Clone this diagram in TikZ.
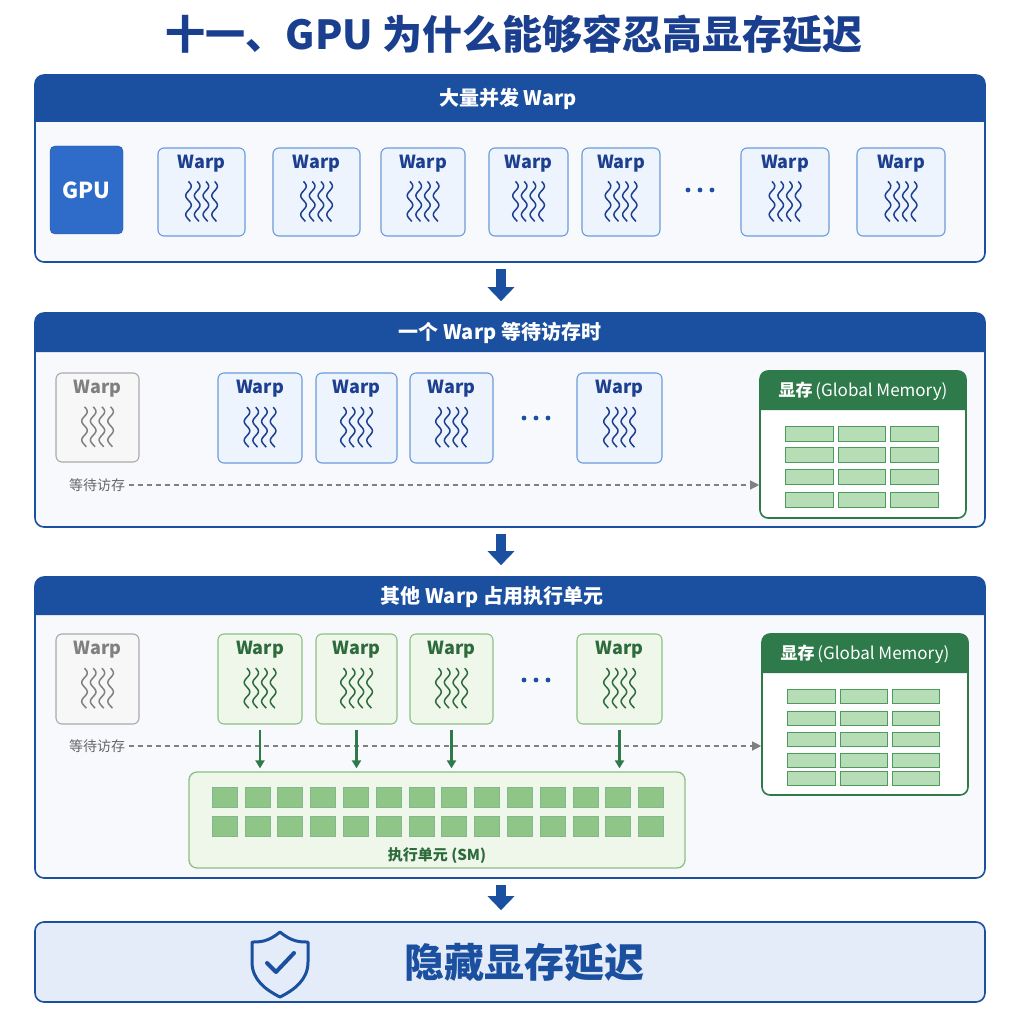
\documentclass[tikz,border=0pt]{standalone}
\usepackage{fontspec}
\setmainfont{Noto Sans CJK SC}
\usetikzlibrary{arrows.meta,positioning}
\definecolor{dblue}{HTML}{1A3F8F}
\definecolor{hblue}{HTML}{1B4FA0}
\definecolor{gpub}{HTML}{2F6BC8}
\definecolor{wblue}{HTML}{6B9BDB}
\definecolor{wfill}{HTML}{EEF4FD}
\definecolor{wtext}{HTML}{1D3F8F}
\definecolor{gtext}{HTML}{2E6B3C}
\definecolor{gborder}{HTML}{8CC084}
\definecolor{gfill}{HTML}{EEF7EA}
\definecolor{mgreen}{HTML}{2F7A4A}
\definecolor{cellg}{HTML}{B6DDB6}
\definecolor{cellb}{HTML}{4E9A5E}
\definecolor{smcell}{HTML}{8FC587}
\definecolor{grayb}{HTML}{AAAAAA}
\definecolor{panelf}{HTML}{F7F9FD}
\definecolor{bottomf}{HTML}{E3ECF8}
\tikzset{
  x=1pt,y=-1pt,
  panel/.style={draw=hblue,line width=1.6pt,rounded corners=9pt,fill=panelf},
  htext/.style={text=white,font=\bfseries\fontsize{20}{20}\selectfont},
  bigarrow/.style={draw=hblue,line width=10pt,-{Triangle[length=14pt,width=26pt]},shorten <=6pt,shorten >=11pt},
  wbox/.style={draw=wblue,fill=wfill,line width=1.1pt,rounded corners=6pt},
  gbox/.style={draw=gborder,fill=gfill,line width=1.1pt,rounded corners=6pt},
  graybox/.style={draw=grayb,fill=white!94!gray,line width=1.1pt,rounded corners=6pt},
  wlabel/.style={font=\bfseries\fontsize{18}{18}\selectfont},
  dashar/.style={draw=gray,line width=1.2pt,dash pattern=on 5pt off 4pt,-{Triangle[length=9pt,width=9pt]}},
  mcell/.style={draw=cellb,fill=cellg,line width=1pt},
  smc/.style={draw=cellb!70,fill=smcell,line width=0.6pt},
  garrow/.style={draw=mgreen,line width=2.2pt,-{Triangle[length=8pt,width=9pt]}},
}
\newcommand\dotsat[2]{\foreach \q in {-12,0,12}{\fill[hblue] (#1+\q,#2) circle (2.4);}}
% \warpbox{name}{x1}{y1}{x2}{y2}{style}{color}
\newcommand\warpbox[7]{%
  \node[#6,minimum width={#4-#2},minimum height={#5-#3},inner sep=0pt] (#1) at ({(#2+#4)/2},{(#3+#5)/2}) {};
  \node[wlabel,text=#7,below=4pt of #1.north] {Warp};
  \foreach \k in {0,1,2,3}{
    \draw[#7,line width=1.5pt,smooth,samples=30,variable=\t,domain=0:40]
      plot ({(#2+#4)/2-13+\k*8.7+2.8*sin(\t*19)},{#3+(#5-#3)*0.38+\t});
  }%
}
\begin{document}
\begin{tikzpicture}
\useasboundingbox[fill=white] (0,0) rectangle (1024,1024);
\node[text=dblue,font=\bfseries\fontsize{40}{40}\selectfont] (title) at (514,34) {十一、GPU 为什么能够容忍高显存延迟};

% panels
\node[panel,minimum width=950,minimum height=187,inner sep=0pt] (p1) at (510,168.5) {};
\fill[hblue] (35,122) [rounded corners=9pt] -- (35,75) -- (985,75) [sharp corners] -- (985,122) -- cycle;
\node[htext] at (508,99) {大量并发 Warp};

\node[panel,minimum width=950,minimum height=214,inner sep=0pt] (p2) at (510,420) {};
\fill[hblue] (35,352) [rounded corners=9pt] -- (35,313) -- (985,313) [sharp corners] -- (985,352) -- cycle;
\node[htext] at (500,333) {一个 Warp 等待访存时};

\node[panel,minimum width=950,minimum height=301,inner sep=0pt] (p3) at (510,727.5) {};
\fill[hblue] (35,615) [rounded corners=9pt] -- (35,577) -- (985,577) [sharp corners] -- (985,615) -- cycle;
\node[htext] at (492,597) {其他 Warp 占用执行单元};

\node[panel,fill=bottomf,minimum width=950,minimum height=80,inner sep=0pt] (p4) at (510,962) {};

\draw[bigarrow] (p1.south -| 501,0) -- (p2.north -| 501,0);
\draw[bigarrow] (p2.south -| 501,0) -- (p3.north -| 501,0);
\draw[bigarrow] (p3.south -| 501,0) -- (p4.north -| 501,0);

% panel 1
\node[fill=gpub,draw=gpub!80!black,rounded corners=5pt,minimum width=73,minimum height=88,text=white,font=\bfseries\fontsize{22}{22}\selectfont] (gpu) at (86.5,190) {GPU};
\warpbox{a1}{158}{148}{245}{236}{wbox}{wtext}
\warpbox{a2}{273}{148}{360}{236}{wbox}{wtext}
\warpbox{a3}{381}{148}{465}{236}{wbox}{wtext}
\warpbox{a4}{489}{148}{568}{236}{wbox}{wtext}
\warpbox{a5}{582}{148}{660}{236}{wbox}{wtext}
\dotsat{700}{190}
\warpbox{a6}{741}{148}{829}{236}{wbox}{wtext}
\warpbox{a7}{857}{148}{945}{236}{wbox}{wtext}

% panel 2
\warpbox{b0}{56}{373}{139}{462}{graybox}{gray}
\warpbox{b1}{218}{373}{302}{463}{wbox}{wtext}
\warpbox{b2}{316}{373}{397}{463}{wbox}{wtext}
\warpbox{b3}{410}{373}{493}{463}{wbox}{wtext}
\dotsat{536}{418}
\warpbox{b4}{577}{373}{662}{463}{wbox}{wtext}
\node[draw=mgreen,fill=white,line width=1.6pt,rounded corners=8pt,minimum width=206,minimum height=147,inner sep=0pt] (m1) at (863,444.5) {};
\fill[mgreen] (760,410) [rounded corners=8pt] -- (760,371) -- (966,371) [sharp corners] -- (966,410) -- cycle;
\node[text=white,font=\fontsize{17}{17}\selectfont] at (863,391) {\textbf{显存}\,(Global Memory)};
\foreach \yy in {426,447,469,492}{
  \foreach \xa/\xb in {785/833,838/885,890/938}{
    \draw[mcell] (\xa,\yy) rectangle (\xb,\yy+15);
  }}
\node[text=gray!80!black,font=\fontsize{14}{14}\selectfont] (w1) at (97,485) {等待访存};
\draw[dashar] (w1.east) -- (m1.west |- w1.east);

% panel 3
\warpbox{c0}{56}{634}{139}{724}{graybox}{gray}
\warpbox{c1}{218}{634}{302}{724}{gbox}{gtext}
\warpbox{c2}{316}{634}{397}{724}{gbox}{gtext}
\warpbox{c3}{410}{634}{493}{724}{gbox}{gtext}
\dotsat{536}{680}
\warpbox{c4}{577}{634}{662}{724}{gbox}{gtext}
\node[draw=mgreen,fill=white,line width=1.6pt,rounded corners=8pt,minimum width=206,minimum height=161,inner sep=0pt] (m2) at (865,714.5) {};
\fill[mgreen] (762,673) [rounded corners=8pt] -- (762,634) -- (968,634) [sharp corners] -- (968,673) -- cycle;
\node[text=white,font=\fontsize{17}{17}\selectfont] at (865,654) {\textbf{显存}\,(Global Memory)};
\foreach \yy in {689,711,732,753,771}{
  \foreach \xa/\xb in {787/835,840/887,892/939}{
    \draw[mcell] (\xa,\yy) rectangle (\xb,\yy+14);
  }}
\node[text=gray!80!black,font=\fontsize{14}{14}\selectfont] (w2) at (97,746) {等待访存};
\draw[dashar] (w2.east) -- (m2.west |- w2.east);

\node[draw=gborder,fill=gfill,line width=1.3pt,rounded corners=8pt,minimum width=496,minimum height=96,inner sep=0pt] (sm) at (437,820) {};
\foreach \i in {0,...,13}{
  \draw[smc] (212+\i*32.8,787) rectangle ++(25,20);
  \draw[smc] (212+\i*32.8,816) rectangle ++(25,20);
}
\node[text=gtext,font=\bfseries\fontsize{15}{15}\selectfont] at (437,856) {执行单元 (SM)};
\draw[garrow] ([yshift=-5pt]c1.south) -- ([yshift=3pt]c1.south |- sm.north);
\draw[garrow] ([yshift=-5pt]c2.south) -- ([yshift=3pt]c2.south |- sm.north);
\draw[garrow] ([yshift=-5pt]c3.south) -- ([yshift=3pt]c3.south |- sm.north);
\draw[garrow] ([yshift=-5pt]c4.south) -- ([yshift=3pt]c4.south |- sm.north);

% bottom
\draw[hblue,line width=3pt,line join=round] (280,932) .. controls (268,942) and (260,942) .. (252,942) -- (252,962) .. controls (252,980) and (266,990) .. (280,997) .. controls (294,990) and (308,980) .. (308,962) -- (308,942) .. controls (300,942) and (292,942) .. (280,932) -- cycle;
\draw[hblue,line width=4pt,line cap=round,line join=round] (267,963) -- (276,972) -- (294,953);
\node[text=hblue,font=\bfseries\fontsize{40}{40}\selectfont] (res) at (524,962) {隐藏显存延迟};
\end{tikzpicture}
\end{document}
